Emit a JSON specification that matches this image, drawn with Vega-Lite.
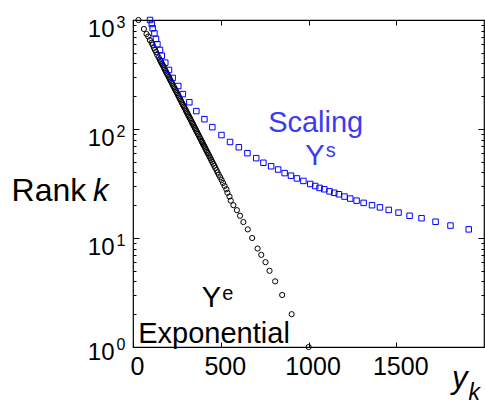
{
  "$schema": "https://vega.github.io/schema/vega-lite/v6.json",
  "width": 351,
  "height": 327,
  "autosize": {"type": "none"},
  "padding": {"left": 133, "top": 20, "right": 1, "bottom": 58},
  "background": "white",
  "config": {"view": {"stroke": "black", "strokeWidth": 1.2}, "font": "Liberation Sans"},
  "datasets": {
    "exponential": [
      {"x": 31, "k": 1000}, {"x": 62, "k": 827}, {"x": 77, "k": 744}, {"x": 87, "k": 705}, {"x": 96, "k": 655},
      {"x": 106, "k": 619}, {"x": 112, "k": 590}, {"x": 119, "k": 557}, {"x": 125, "k": 531}, {"x": 132, "k": 507},
      {"x": 138, "k": 479}, {"x": 146, "k": 453}, {"x": 153, "k": 432},
      {"x": 157, "k": 420}, {"x": 161, "k": 408}, {"x": 165, "k": 396}, {"x": 170, "k": 384}, {"x": 174, "k": 372},
      {"x": 178, "k": 361}, {"x": 182, "k": 350}, {"x": 186, "k": 340}, {"x": 190, "k": 330}, {"x": 195, "k": 320},
      {"x": 199, "k": 310}, {"x": 204, "k": 300}, {"x": 208, "k": 291}, {"x": 212, "k": 282}, {"x": 217, "k": 273},
      {"x": 221, "k": 265}, {"x": 225, "k": 257}, {"x": 229, "k": 249}, {"x": 234, "k": 241}, {"x": 238, "k": 234},
      {"x": 242, "k": 227}, {"x": 247, "k": 220}, {"x": 251, "k": 213}, {"x": 256, "k": 206}, {"x": 260, "k": 200},
      {"x": 264, "k": 194}, {"x": 268, "k": 188}, {"x": 273, "k": 182}, {"x": 277, "k": 176}, {"x": 281, "k": 171},
      {"x": 285, "k": 166}, {"x": 290, "k": 161}, {"x": 294, "k": 156}, {"x": 299, "k": 151}, {"x": 303, "k": 146},
      {"x": 307, "k": 142}, {"x": 311, "k": 138}, {"x": 315, "k": 134}, {"x": 319, "k": 130}, {"x": 324, "k": 126},
      {"x": 328, "k": 122}, {"x": 333, "k": 118}, {"x": 337, "k": 114}, {"x": 341, "k": 111}, {"x": 345, "k": 108},
      {"x": 349, "k": 105}, {"x": 353, "k": 102}, {"x": 357, "k": 99}, {"x": 361, "k": 96}, {"x": 366, "k": 93},
      {"x": 370, "k": 90}, {"x": 375, "k": 87}, {"x": 380, "k": 84}, {"x": 385, "k": 81}, {"x": 390, "k": 78},
      {"x": 394, "k": 76}, {"x": 397, "k": 74}, {"x": 401, "k": 72}, {"x": 405, "k": 70}, {"x": 409, "k": 68},
      {"x": 413, "k": 66}, {"x": 417, "k": 64}, {"x": 422, "k": 62}, {"x": 426, "k": 60}, {"x": 431, "k": 58},
      {"x": 436, "k": 56}, {"x": 441, "k": 54}, {"x": 446, "k": 52}, {"x": 451, "k": 50}, {"x": 457, "k": 48},
      {"x": 463, "k": 46}, {"x": 469, "k": 44}, {"x": 476, "k": 42}, {"x": 482, "k": 40}, {"x": 489, "k": 38},
      {"x": 497, "k": 36}, {"x": 505, "k": 34}, {"x": 513, "k": 32}, {"x": 522, "k": 30}, {"x": 532, "k": 28},
      {"x": 538, "k": 26}, {"x": 550, "k": 24},
      {"x": 557, "k": 22}, {"x": 572, "k": 20}, {"x": 592, "k": 18}, {"x": 610, "k": 16}, {"x": 629, "k": 14},
      {"x": 654, "k": 12}, {"x": 679, "k": 10}, {"x": 710, "k": 8}, {"x": 731, "k": 7}, {"x": 755, "k": 6},
      {"x": 778, "k": 5}, {"x": 810, "k": 4}, {"x": 850, "k": 3}, {"x": 904, "k": 2}, {"x": 1001, "k": 1}
    ],
    "scaling": [
      {"x": 97, "k": 1000}, {"x": 107, "k": 919}, {"x": 112, "k": 839}, {"x": 122, "k": 755}, {"x": 131, "k": 670},
      {"x": 139, "k": 599}, {"x": 154, "k": 531}, {"x": 164, "k": 470}, {"x": 184, "k": 406}, {"x": 205, "k": 348},
      {"x": 226, "k": 294}, {"x": 258, "k": 248}, {"x": 284, "k": 209}, {"x": 321, "k": 176}, {"x": 361, "k": 146},
      {"x": 407, "k": 123}, {"x": 452, "k": 104}, {"x": 504, "k": 88}, {"x": 553, "k": 76}, {"x": 603, "k": 68},
      {"x": 652, "k": 60}, {"x": 702, "k": 54}, {"x": 743, "k": 49}, {"x": 787, "k": 45.5}, {"x": 827, "k": 42.5},
      {"x": 864, "k": 39.4}, {"x": 900, "k": 37.3}, {"x": 934, "k": 35.2}, {"x": 971, "k": 33.4}, {"x": 1010, "k": 31.3},
      {"x": 1038, "k": 30}, {"x": 1063, "k": 28.8}, {"x": 1090, "k": 28}, {"x": 1120, "k": 26.8}, {"x": 1147, "k": 26},
      {"x": 1173, "k": 25.2}, {"x": 1205, "k": 24}, {"x": 1238, "k": 23}, {"x": 1274, "k": 22}, {"x": 1314, "k": 21},
      {"x": 1362, "k": 20}, {"x": 1407, "k": 19.1}, {"x": 1457, "k": 18.1}, {"x": 1513, "k": 17.1}, {"x": 1576, "k": 16},
      {"x": 1644, "k": 15.2}, {"x": 1724, "k": 14.1}, {"x": 1809, "k": 13}, {"x": 1913, "k": 12}
    ],
    "black_text": [
      {"x": 30, "k": 1.08, "t": "Exponential"},
      {"x": 392, "k": 2.343, "t": "Y"}
    ],
    "rank_text": [{"x": -692, "k": 21.85, "t": "Rank"}],
    "black_sup": [{"x": 508, "k": 2.7, "t": "e"}],
    "blue_text": [
      {"x": 770, "k": 93.9, "t": "Scaling"},
      {"x": 981, "k": 46.8, "t": "Y"}
    ],
    "blue_sup": [{"x": 1098, "k": 55.9, "t": "s"}],
    "italic": [
      {"x": -228, "k": 21.85, "t": "k"},
      {"x": 1818, "k": 0.42, "t": "y"}
    ],
    "italic_sub": [{"x": 1911, "k": 0.326, "t": "k"}]
  },
  "layer": [
    {
      "data": {"name": "exponential"},
      "mark": {"type": "point", "shape": "circle", "filled": false, "stroke": "black", "strokeWidth": 1, "size": 27, "opacity": 1},
      "encoding": {
        "x": {
          "field": "x", "type": "quantitative",
          "scale": {"domain": [0, 2000], "nice": false, "zero": false},
          "axis": {
            "orient": "bottom", "values": [0, 500, 1000, 1500], "format": "d", "title": null, "grid": false, "domain": false,
            "tickSize": -5, "tickColor": "black", "tickWidth": 1, "labelPadding": 12, "labelFlush": false, "labelOffset": 4,
            "labelFontSize": 25, "labelColor": "black", "labelFont": "Liberation Sans", "labelOverlap": false
          }
        },
        "y": {
          "field": "k", "type": "quantitative",
          "scale": {"type": "log", "domain": [1, 1000], "nice": false},
          "axis": {
            "orient": "left",
            "values": [1, 2, 3, 4, 5, 6, 7, 8, 9, 10, 20, 30, 40, 50, 60, 70, 80, 90, 100, 200, 300, 400, 500, 600, 700, 800, 900, 1000],
            "labelExpr": "(datum.value == 1 || datum.value == 10 || datum.value == 100 || datum.value == 1000) ? '10' : ''",
            "title": null, "grid": false, "domain": false,
            "tickSize": {"condition": {"test": "datum.value == 1 || datum.value == 10 || datum.value == 100 || datum.value == 1000", "value": -6}, "value": -3},
            "tickColor": "black", "tickWidth": 1, "labelPadding": 25, "labelFlush": false, "labelOverlap": false,
            "labelBaseline": "alphabetic",
            "labelOffset": {"condition": {"test": "datum.value == 1", "value": 12}, "value": 16},
            "labelFontSize": 24, "labelColor": "black", "labelFont": "Liberation Sans"
          }
        }
      }
    },
    {
      "data": {"name": "scaling"},
      "mark": {"type": "point", "shape": "square", "filled": false, "stroke": "#0000ff", "strokeWidth": 1, "size": 30, "opacity": 1},
      "encoding": {
        "x": {
          "field": "x", "type": "quantitative",
          "scale": {"domain": [0, 2000], "nice": false, "zero": false},
          "axis": {
            "orient": "top", "values": [0, 500, 1000, 1500], "title": null, "grid": false, "domain": false,
            "labels": false, "tickSize": -5, "tickColor": "black", "tickWidth": 1
          }
        },
        "y": {
          "field": "k", "type": "quantitative",
          "scale": {"type": "log", "domain": [1, 1000], "nice": false},
          "axis": {
            "orient": "right",
            "values": [1, 2, 3, 4, 5, 6, 7, 8, 9, 10, 20, 30, 40, 50, 60, 70, 80, 90, 100, 200, 300, 400, 500, 600, 700, 800, 900, 1000],
            "title": null, "grid": false, "domain": false, "labels": false,
            "tickSize": {"condition": {"test": "datum.value == 1 || datum.value == 10 || datum.value == 100 || datum.value == 1000", "value": -6}, "value": -3},
            "tickColor": "black", "tickWidth": 1
          }
        }
      }
    },
    {
      "data": {"name": "black_text"},
      "mark": {"type": "text", "align": "left", "baseline": "alphabetic", "font": "Liberation Sans", "fontSize": 29, "color": "black"},
      "encoding": {
        "x": {"field": "x", "type": "quantitative", "scale": {"domain": [0, 2000], "nice": false, "zero": false}, "axis": null},
        "y": {
          "field": "k", "type": "quantitative", "scale": {"type": "log", "domain": [1, 1000], "nice": false},
          "axis": {
            "orient": "left", "values": [1, 10, 100, 1000],
            "labelExpr": "datum.value == 1000 ? '3' : datum.value == 100 ? '2' : datum.value == 10 ? '1' : '0'",
            "ticks": false, "domain": false, "grid": false, "title": null,
            "labelAlign": "left", "labelPadding": 17, "labelBaseline": "alphabetic",
            "labelOffset": {"condition": {"test": "datum.value == 1", "value": 2}, "value": 7},
            "labelFontSize": 16, "labelColor": "black", "labelFont": "Liberation Sans", "labelFlush": false, "labelOverlap": false
          }
        },
        "text": {"field": "t"}
      }
    },
    {
      "data": {"name": "rank_text"},
      "mark": {"type": "text", "align": "left", "baseline": "alphabetic", "font": "Liberation Sans", "fontSize": 32, "color": "black"},
      "encoding": {
        "x": {"field": "x", "type": "quantitative", "scale": {"domain": [0, 2000], "nice": false, "zero": false}, "axis": null},
        "y": {"field": "k", "type": "quantitative", "scale": {"type": "log", "domain": [1, 1000], "nice": false}, "axis": null},
        "text": {"field": "t"}
      }
    },
    {
      "data": {"name": "black_sup"},
      "mark": {"type": "text", "align": "left", "baseline": "alphabetic", "font": "Liberation Sans", "fontSize": 20, "color": "black"},
      "encoding": {
        "x": {"field": "x", "type": "quantitative", "scale": {"domain": [0, 2000], "nice": false, "zero": false}, "axis": null},
        "y": {"field": "k", "type": "quantitative", "scale": {"type": "log", "domain": [1, 1000], "nice": false}, "axis": null},
        "text": {"field": "t"}
      }
    },
    {
      "data": {"name": "blue_text"},
      "mark": {"type": "text", "align": "left", "baseline": "alphabetic", "font": "Liberation Sans", "fontSize": 29, "color": "#3b3bf5"},
      "encoding": {
        "x": {"field": "x", "type": "quantitative", "scale": {"domain": [0, 2000], "nice": false, "zero": false}, "axis": null},
        "y": {"field": "k", "type": "quantitative", "scale": {"type": "log", "domain": [1, 1000], "nice": false}, "axis": null},
        "text": {"field": "t"}
      }
    },
    {
      "data": {"name": "blue_sup"},
      "mark": {"type": "text", "align": "left", "baseline": "alphabetic", "font": "Liberation Sans", "fontSize": 20, "color": "#3b3bf5"},
      "encoding": {
        "x": {"field": "x", "type": "quantitative", "scale": {"domain": [0, 2000], "nice": false, "zero": false}, "axis": null},
        "y": {"field": "k", "type": "quantitative", "scale": {"type": "log", "domain": [1, 1000], "nice": false}, "axis": null},
        "text": {"field": "t"}
      }
    },
    {
      "data": {"name": "italic"},
      "mark": {"type": "text", "align": "left", "baseline": "alphabetic", "font": "Liberation Sans", "fontSize": 31, "fontStyle": "italic", "color": "black"},
      "encoding": {
        "x": {"field": "x", "type": "quantitative", "scale": {"domain": [0, 2000], "nice": false, "zero": false}, "axis": null},
        "y": {"field": "k", "type": "quantitative", "scale": {"type": "log", "domain": [1, 1000], "nice": false}, "axis": null},
        "text": {"field": "t"}
      }
    },
    {
      "data": {"name": "italic_sub"},
      "mark": {"type": "text", "align": "left", "baseline": "alphabetic", "font": "Liberation Sans", "fontSize": 23, "fontStyle": "italic", "color": "black"},
      "encoding": {
        "x": {"field": "x", "type": "quantitative", "scale": {"domain": [0, 2000], "nice": false, "zero": false}, "axis": null},
        "y": {"field": "k", "type": "quantitative", "scale": {"type": "log", "domain": [1, 1000], "nice": false}, "axis": null},
        "text": {"field": "t"}
      }
    }
  ],
  "resolve": {"axis": {"x": "independent", "y": "independent"}}
}
